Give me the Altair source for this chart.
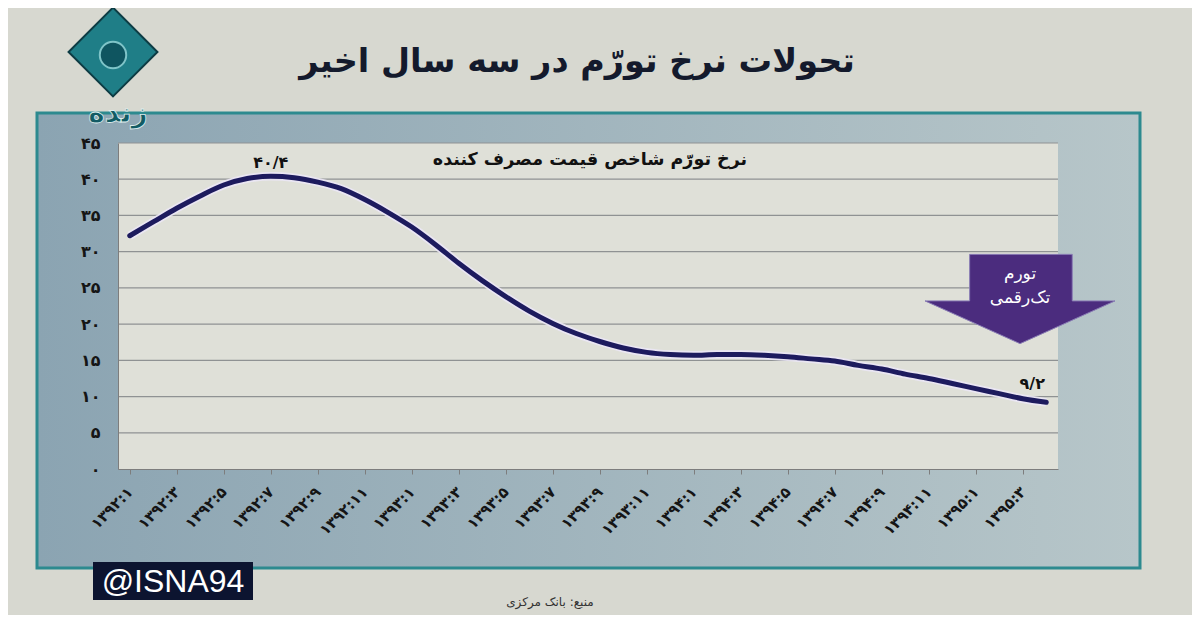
import json
import altair as alt
import pandas as pd

# ---- data ----
months = [
    "۱۳۹۲:۱", "۱۳۹۲:۲", "۱۳۹۲:۳", "۱۳۹۲:۴", "۱۳۹۲:۵", "۱۳۹۲:۶",
    "۱۳۹۲:۷", "۱۳۹۲:۸", "۱۳۹۲:۹", "۱۳۹۲:۱۰", "۱۳۹۲:۱۱", "۱۳۹۲:۱۲",
    "۱۳۹۳:۱", "۱۳۹۳:۲", "۱۳۹۳:۳", "۱۳۹۳:۴", "۱۳۹۳:۵", "۱۳۹۳:۶",
    "۱۳۹۳:۷", "۱۳۹۳:۸", "۱۳۹۳:۹", "۱۳۹۳:۱۰", "۱۳۹۳:۱۱", "۱۳۹۳:۱۲",
    "۱۳۹۴:۱", "۱۳۹۴:۲", "۱۳۹۴:۳", "۱۳۹۴:۴", "۱۳۹۴:۵", "۱۳۹۴:۶",
    "۱۳۹۴:۷", "۱۳۹۴:۸", "۱۳۹۴:۹", "۱۳۹۴:۱۰", "۱۳۹۴:۱۱", "۱۳۹۴:۱۲",
    "۱۳۹۵:۱", "۱۳۹۵:۲", "۱۳۹۵:۳", "۱۳۹۵:۴",
]
inflation = [
    32.2, 34.1, 36.0, 37.7, 39.2, 40.1, 40.4, 40.2, 39.6, 38.7,
    37.2, 35.4, 33.4, 31.0, 28.4, 26.0, 23.8, 21.8, 20.1, 18.7,
    17.6, 16.7, 16.1, 15.8, 15.7, 15.8, 15.8, 15.7, 15.5, 15.2,
    14.9, 14.3, 13.8, 13.1, 12.5, 11.8, 11.1, 10.4, 9.7, 9.2,
]
tick_labels = months[::2]
y_ticks = [0, 5, 10, 15, 20, 25, 30, 35, 40, 45]
y_tick_labels = ["۰", "۵", "۱۰", "۱۵", "۲۰", "۲۵", "۳۰", "۳۵", "۴۰", "۴۵"]

peak_month = ["۱۳۹۲:۷"]
peak_value = [40.4]
peak_text = ["۴۰/۴"]
last_month = ["۱۳۹۵:۴"]
last_value = [9.2]
last_text = ["۹/۲"]

title_text = "تحولات نرخ تورّم در سه سال اخیر"
subtitle_text = "نرخ تورّم شاخص قیمت مصرف کننده"
arrow_line1 = "تورم"
arrow_line2 = "تک‌رقمی"
source_text = "منبع: بانک مرکزی"
handle_text = "@ISNA94"
logo_text = "زنده"

# ---- layout ----
W, H = 940, 326
FONT = "DejaVu Sans"

x_axis = alt.Axis(
    title=None, values=tick_labels, labelAngle=-45, labelAlign="right",
    labelBaseline="middle", labelFont=FONT, labelFontSize=15,
    labelFontWeight="bold", labelColor="#151515", labelPadding=15,
    labelOverlap=False, ticks=True, tickColor="#7d7d7d", tickSize=5,
    domainColor="#7d7d7d", grid=False, zindex=1,
)
y_axis = alt.Axis(
    title=None, values=y_ticks,
    labelExpr=json.dumps(y_tick_labels, ensure_ascii=False) + "[datum.value/5]",
    labelFont=FONT, labelFontSize=16, labelFontWeight="bold",
    labelColor="#151515", labelPadding=18, ticks=False,
    domainColor="#7d7d7d", grid=False, zindex=1,
)
x_scale = alt.Scale(domain=months, type="point", padding=0.5)
y_scale = alt.Scale(domain=[0, 45], nice=False, zero=True)
x_enc = alt.X("m:N", scale=x_scale, axis=x_axis, sort=months)
y_enc = alt.Y("v:Q", scale=y_scale, axis=y_axis)

one = pd.DataFrame({"a": [0]})
series = pd.DataFrame({"m": months, "v": inflation})
grid_df = pd.DataFrame({"v": y_ticks[1:]})
peak_df = pd.DataFrame({"m": peak_month, "v": peak_value, "t": peak_text})
last_df = pd.DataFrame({"m": last_month, "v": last_value, "t": last_text})

panel_fill = alt.LinearGradient(
    gradient="linear",
    stops=[alt.GradientStop(color="#8ba4b2", offset=0),
           alt.GradientStop(color="#b7c6c9", offset=1)],
    x1=0, x2=1, y1=0, y2=0,
)
panel = alt.Chart(one).mark_rect(fill=panel_fill, stroke="#2d8a8f", strokeWidth=3).encode(
    x=alt.value(-81), x2=alt.value(1022), y=alt.value(-30), y2=alt.value(425)
)
plot_bg = alt.Chart(one).mark_rect(fill="#dfe0d8").encode(
    x=alt.value(0), x2=alt.value(W), y=alt.value(0), y2=alt.value(H)
)
grid = alt.Chart(grid_df).mark_rule(color="#8f9293", strokeWidth=1.2).encode(y=y_enc)

ARROW = "M-0.53,-0.47 L0.55,-0.47 L0.55,0.02 L1,0.02 L0,0.47 L-1,0.02 L-0.53,0.02 Z"
arrow = alt.Chart(one).mark_point(
    shape=ARROW, size=36100, filled=True, fill="#4b2c7e", stroke="#8a7db5",
    strokeWidth=1, opacity=1,
).encode(x=alt.value(902), y=alt.value(156))
arrow_t1 = alt.Chart(one).mark_text(text=arrow_line1, font=FONT, fontSize=17, color="#ffffff").encode(
    x=alt.value(902), y=alt.value(131))
arrow_t2 = alt.Chart(one).mark_text(text=arrow_line2, font=FONT, fontSize=17, color="#ffffff").encode(
    x=alt.value(902), y=alt.value(155))

halo = alt.Chart(series).mark_line(color="#ebe7f6", strokeWidth=8.5, interpolate="monotone", opacity=0.9).encode(
    x=x_enc, y=y_enc)
line = alt.Chart(series).mark_line(color="#1d1b5e", strokeWidth=5, interpolate="monotone", strokeCap="round").encode(
    x=x_enc, y=y_enc)

peak_lbl = alt.Chart(peak_df).mark_text(font=FONT, fontSize=16, fontWeight="bold", color="#111111", dy=-13).encode(
    x=x_enc, y=y_enc, text="t:N")
last_lbl = alt.Chart(last_df).mark_text(font=FONT, fontSize=16, fontWeight="bold", color="#111111", dx=-14, dy=-18).encode(
    x=x_enc, y=y_enc, text="t:N")

subtitle = alt.Chart(one).mark_text(text=subtitle_text, font=FONT, fontSize=17.5, fontWeight="bold", color="#111111").encode(
    x=alt.value(472), y=alt.value(17))
title = alt.Chart(one).mark_text(text=title_text, font=FONT, fontSize=33.5, fontWeight="bold", color="#141a2c").encode(
    x=alt.value(459), y=alt.value(-81))

logo_d = alt.Chart(one).mark_point(shape="diamond", size=7900, filled=True, fill="#1f7e87",
                                   stroke="#0d3c44", strokeWidth=2, opacity=1).encode(
    x=alt.value(-5), y=alt.value(-91))
logo_c = alt.Chart(one).mark_point(shape="circle", size=700, filled=True, fill="#0f5560",
                                   stroke="#7fc4c8", strokeWidth=2, opacity=1).encode(
    x=alt.value(-5), y=alt.value(-88))
logo_t = alt.Chart(one).mark_text(text=logo_text, font=FONT, fontSize=28, fontWeight="bold", color="#135b64",
                                  stroke="#dfeeee", strokeWidth=0.8).encode(
    x=alt.value(0), y=alt.value(-29))

isna_box = alt.Chart(one).mark_rect(fill="#0c1430").encode(
    x=alt.value(-25), x2=alt.value(135), y=alt.value(419), y2=alt.value(457))
isna_t = alt.Chart(one).mark_text(text=handle_text, font="Liberation Sans", fontSize=32, color="#ffffff").encode(
    x=alt.value(55), y=alt.value(439))
source = alt.Chart(one).mark_text(text=source_text, font=FONT, fontSize=12, color="#333333").encode(
    x=alt.value(432), y=alt.value(459))

chart = alt.layer(
    panel, plot_bg, grid, arrow, arrow_t1, arrow_t2, halo, line,
    peak_lbl, last_lbl, subtitle, title, logo_d, logo_c, logo_t,
    isna_box, isna_t, source,
).properties(
    width=W, height=H,
    autosize=alt.AutoSizeParams(type="none"),
    padding={"left": 110, "top": 135, "right": 134, "bottom": 146},
).configure(background="#d7d8d0").configure_view(strokeWidth=0)

chart.save("out.html", embed_options={"renderer": "svg", "actions": False})
